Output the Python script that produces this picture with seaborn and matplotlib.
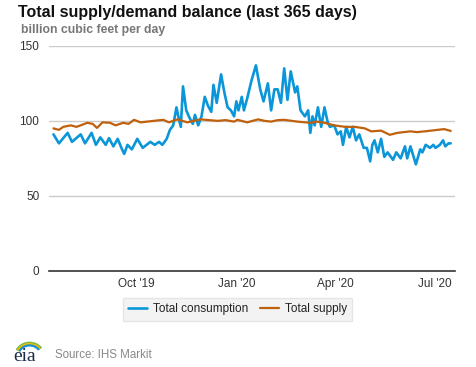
import matplotlib
matplotlib.use("Agg")
import matplotlib.pyplot as plt
from matplotlib.patches import Arc
import seaborn as sns
import pandas as pd

# ---- data ----
cons_dates = [
    "2019-07-17", "2019-07-22", "2019-07-30", "2019-08-03", "2019-08-11", "2019-08-15",
    "2019-08-21", "2019-08-25", "2019-08-29", "2019-09-03", "2019-09-06", "2019-09-10",
    "2019-09-14", "2019-09-18", "2019-09-20", "2019-09-23", "2019-09-27", "2019-10-02",
    "2019-10-07", "2019-10-14", "2019-10-18", "2019-10-22", "2019-10-25", "2019-10-29",
    "2019-11-01", "2019-11-04", "2019-11-07", "2019-11-09", "2019-11-11", "2019-11-13",
    "2019-11-16", "2019-11-19", "2019-11-22", "2019-11-24", "2019-11-27", "2019-11-30",
    "2019-12-03", "2019-12-06", "2019-12-09", "2019-12-11", "2019-12-14", "2019-12-18",
    "2019-12-21", "2019-12-24", "2019-12-27", "2019-12-30", "2020-01-01", "2020-01-03",
    "2020-01-06", "2020-01-08", "2020-01-11", "2020-01-15", "2020-01-19", "2020-01-23",
    "2020-01-26", "2020-01-30", "2020-02-02", "2020-02-05", "2020-02-08", "2020-02-11",
    "2020-02-14", "2020-02-17", "2020-02-20", "2020-02-24", "2020-02-26", "2020-02-29",
    "2020-03-04", "2020-03-07", "2020-03-09", "2020-03-11", "2020-03-13", "2020-03-16",
    "2020-03-19", "2020-03-22", "2020-03-25", "2020-03-27", "2020-03-31", "2020-04-03",
    "2020-04-06", "2020-04-08", "2020-04-11", "2020-04-14", "2020-04-17", "2020-04-20",
    "2020-04-23", "2020-04-27", "2020-04-30", "2020-05-03", "2020-05-05", "2020-05-07",
    "2020-05-10", "2020-05-13", "2020-05-16", "2020-05-19", "2020-05-24", "2020-05-27",
    "2020-05-31", "2020-06-04", "2020-06-06", "2020-06-09", "2020-06-14", "2020-06-18",
    "2020-06-20", "2020-06-23", "2020-06-27", "2020-06-30", "2020-07-02", "2020-07-06",
    "2020-07-09", "2020-07-11", "2020-07-14", "2020-07-16",
]
cons_values = [
    91, 85, 92, 86, 91, 85,
    92, 84, 89, 84, 88.5, 83,
    88, 81, 78, 84, 81, 88,
    82, 86, 84, 86, 84, 88,
    94, 97, 109, 102, 96, 123,
    107, 102, 98, 104, 97, 103,
    116, 110, 106, 124, 112, 131,
    119, 109, 107, 103, 113, 107,
    116, 107, 115, 127, 137, 121,
    113, 125, 107, 121, 121, 112,
    135, 114, 133, 119, 123, 107,
    103, 107, 92, 103, 97, 109,
    96, 109, 99, 96, 97, 91,
    93, 84, 96, 89, 96, 87,
    91, 82, 82, 73, 84, 87,
    79, 88, 76, 79, 74, 79,
    75, 83, 75, 83, 71, 81,
    79, 84, 82, 84, 82, 84,
    87, 83, 85, 85,
]

supply_dates = [
    "2019-07-17", "2019-07-22", "2019-07-26", "2019-08-02", "2019-08-07", "2019-08-11",
    "2019-08-17", "2019-08-22", "2019-08-26", "2019-08-31", "2019-09-07", "2019-09-12",
    "2019-09-19", "2019-09-24", "2019-09-29", "2019-10-05", "2019-10-11", "2019-10-17",
    "2019-10-26", "2019-10-31", "2019-11-08", "2019-11-17", "2019-11-23", "2019-11-29",
    "2019-12-07", "2019-12-15", "2019-12-22", "2019-12-30", "2020-01-02", "2020-01-11",
    "2020-01-21", "2020-01-27", "2020-02-02", "2020-02-08", "2020-02-14", "2020-02-26",
    "2020-03-09", "2020-03-15", "2020-03-22", "2020-03-31", "2020-04-10", "2020-04-19",
    "2020-04-28", "2020-05-04", "2020-05-13", "2020-05-21", "2020-05-28", "2020-06-03",
    "2020-06-09", "2020-06-15", "2020-06-22", "2020-06-28", "2020-07-04", "2020-07-10",
    "2020-07-16",
]
supply_values = [
    95, 94, 96, 97, 96, 97,
    98.7, 98, 95.3, 99, 98.7, 97,
    98.7, 98, 100.7, 99, 99.5, 100,
    100.7, 99, 101, 99, 100, 101,
    100.5, 100, 100.5, 99.5, 100.7, 99,
    101, 100, 99.5, 100.5, 100.7, 99.5,
    98.7, 99.5, 98.7, 97, 96, 96,
    95, 93, 93.5, 90.7, 92, 92.5,
    93, 92.5, 93, 93.5, 94, 94.5,
    93.3,
]

tick_dates = ["2019-10-01", "2020-01-01", "2020-04-01", "2020-07-01"]
tick_labels = ["Oct '19", "Jan '20", "Apr '20", "Jul '20"]
y_ticks = [0, 50, 100, 150]

title = "Total supply/demand balance (last 365 days)"
subtitle = "billion cubic feet per day"
source = "Source: IHS Markit"

# ---- style ----
sns.set_theme(style="white")
plt.rcParams["font.family"] = ["Liberation Sans", "DejaVu Sans"]

BLUE = "#0a96d8"
ORANGE = "#c0600c"

cons_df = pd.DataFrame({"date": pd.to_datetime(cons_dates), "value": cons_values})
sup_df = pd.DataFrame({"date": pd.to_datetime(supply_dates), "value": supply_values})

fig = plt.figure(figsize=(4.77, 3.67), dpi=100)
ax = fig.add_axes([0.103, 0.262, 0.851, 0.613])

for y in y_ticks[1:]:
    ax.axhline(y, color="#cccccc", lw=1.0, zorder=0)

sns.lineplot(data=cons_df, x="date", y="value", ax=ax, color=BLUE, lw=1.9,
             label="Total consumption")
sns.lineplot(data=sup_df, x="date", y="value", ax=ax, color=ORANGE, lw=1.6,
             label="Total supply")

ax.set_xlim(pd.Timestamp("2019-07-13"), pd.Timestamp("2020-07-20"))
ax.set_ylim(0, 150)
ax.set_xlabel("")
ax.set_ylabel("")
for s in ["top", "right", "left"]:
    ax.spines[s].set_visible(False)
ax.spines["bottom"].set_color("#333333")
ax.spines["bottom"].set_linewidth(1.2)

ax.set_yticks(y_ticks)
ax.set_yticklabels([str(v) for v in y_ticks], fontsize=8.5, color="#333333")
ax.tick_params(axis="y", length=0, pad=7)
ax.set_xticks(pd.to_datetime(tick_dates))
ax.set_xticklabels(tick_labels, fontsize=8.5, color="#333333")
ax.tick_params(axis="x", length=4, width=1, color="#333333", direction="out", pad=1)

leg = ax.legend(loc="upper center", bbox_to_anchor=(0.464, -0.095), ncol=2,
                frameon=True, fontsize=8.5, handlelength=1.6, handletextpad=0.5,
                columnspacing=1.0, borderpad=0.45, fancybox=False)
leg.get_frame().set_facecolor("#f0f0f0")
leg.get_frame().set_edgecolor("#e2e2e2")
for t in leg.get_texts():
    t.set_color("#222222")

fig.text(0.037, 0.965, title, fontsize=11.5, fontweight="bold", color="#111111",
         ha="left", va="center")
fig.text(0.043, 0.918, subtitle, fontsize=8.8, fontweight="bold", color="#777777",
         ha="left", va="center")

# source + eia mark
fig.text(0.115, 0.033, source, fontsize=8.3, color="#888888", ha="left", va="center")
fig.text(0.028, 0.028, "eia", fontsize=14, color="#1a2a4a", ha="left", va="center",
         family=["Liberation Serif", "DejaVu Serif"])
for w, c in [(0.060, "#7ab648"), (0.054, "#f2c200"), (0.048, "#1a8fd0")]:
    arc = Arc((0.062, 0.030), w, w * 1.2, theta1=40, theta2=150, color=c, lw=1.6,
              transform=fig.transFigure)
    fig.add_artist(arc)

fig.savefig("out.png", dpi=100)
